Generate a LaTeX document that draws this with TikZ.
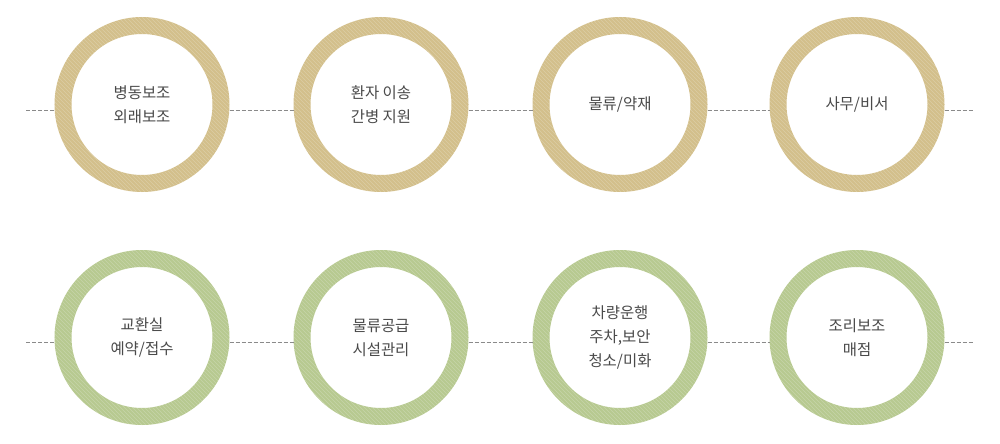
\documentclass[tikz,border=0pt]{standalone}
\usepackage{fontspec}
\setmainfont{Noto Sans CJK KR}
\usetikzlibrary{patterns}
\begin{document}
\begin{tikzpicture}[x=0.75pt,y=-0.75pt,
  ring/.style={circle,line width=12.75pt,minimum size=118.5pt,inner sep=0pt,fill=white,
    text=textgray,font=\fontsize{11.6pt}{18pt}\selectfont,align=center},
  goldring/.style={ring,draw=ringgold},
  greenring/.style={ring,draw=ringgreen},
  stripes/.style={pattern=north west lines,pattern color=white,opacity=0.22,even odd rule},
  link/.style={draw=linegray,line width=0.75pt,dash pattern=on 3pt off 1.5pt}]
\definecolor{ringgold}{HTML}{D3BF8B}
\definecolor{ringgreen}{HTML}{B7C990}
\definecolor{textgray}{HTML}{4A4A4A}
\definecolor{linegray}{HTML}{8A8A8A}
\useasboundingbox (0,0) rectangle (1000,443);
% top row
\coordinate (tl) at (26,110);
\coordinate (tr) at (973,110);
\node[goldring] (a1) at (142,104.5) {병동보조\\외래보조};
\node[goldring] (a2) at (381,104.5) {환자 이송\\간병 지원};
\node[goldring] (a3) at (620,104.5) {물류/약재};
\node[goldring] (a4) at (857,104.5) {사무/비서};
% bottom row
\coordinate (bl) at (26,342);
\coordinate (br) at (973,342);
\node[greenring] (b1) at (142,337.5) {교환실\\예약/접수};
\node[greenring] (b2) at (381,337.5) {물류공급\\시설관리};
\node[greenring] (b3) at (620,337.5) {차량운행\\주차,보안\\청소/미화};
\node[greenring] (b4) at (857,337.5) {조리보조\\매점};
% ring stripes
\foreach \n in {a1,a2,a3,a4,b1,b2,b3,b4}
  \fill[stripes] (\n.center) circle[radius=65.6pt] (\n.center) circle[radius=52.9pt];
% dashed connectors
\path[link] (tl) -- (tl -| a1.west);
\path[link] (a1.east |- tl) -- (a2.west |- tl);
\path[link] (a2.east |- tl) -- (a3.west |- tl);
\path[link] (a3.east |- tl) -- (a4.west |- tl);
\path[link] (a4.east |- tr) -- (tr);
\path[link] (bl) -- (bl -| b1.west);
\path[link] (b1.east |- bl) -- (b2.west |- bl);
\path[link] (b2.east |- bl) -- (b3.west |- bl);
\path[link] (b3.east |- bl) -- (b4.west |- bl);
\path[link] (b4.east |- br) -- (br);
\end{tikzpicture}
\end{document}
